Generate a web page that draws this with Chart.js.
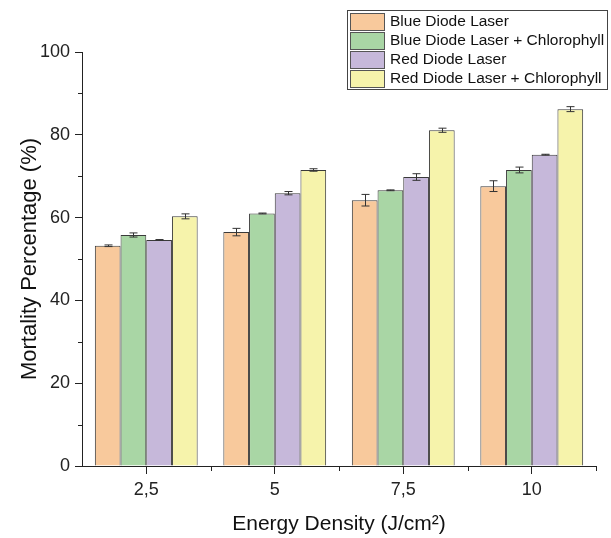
<!DOCTYPE html>
<html>
<head>
<meta charset="utf-8">
<script src="https://cdn.jsdelivr.net/npm/chart.js@4/dist/chart.umd.min.js"></script>
<style>
  html, body { margin:0; padding:0; background:#fff; }
  #wrap { width:611px; height:538px; }
</style>
</head>
<body>
<div id="wrap"><canvas id="chart" width="611" height="538"></canvas></div>
<script>
// ===== DATA =====
const categories = ["2,5", "5", "7,5", "10"];

const blueLaser      = [53.2, 56.5, 64.2, 67.6];
const blueLaserChl   = [55.8, 61.0, 66.6, 71.5];
const redLaser       = [54.6, 65.9, 69.8, 75.2];
const redLaserChl    = [60.3, 71.5, 81.1, 86.2];

// error bars (+/-)
const blueLaserErr    = [0.2, 0.9, 1.4, 1.3];
const blueLaserChlErr = [0.5, 0.1, 0.1, 0.7];
const redLaserErr     = [0.1, 0.4, 0.8, 0.1];
const redLaserChlErr  = [0.6, 0.3, 0.5, 0.6];

const seriesNames = [
  "Blue Diode Laser",
  "Blue Diode Laser + Chlorophyll",
  "Red Diode Laser",
  "Red Diode Laser + Chlorophyll"
];

const yMinorTicks = [10, 30, 50, 70, 90];

const FONT = "'Liberation Sans', Arial, sans-serif";
const colors = ["#F8C99C", "#A9D6A5", "#C6B8DA", "#F6F3AB"];

function ds(i, data, err){
  return {
    label: seriesNames[i],
    data: data,
    errors: err,
    backgroundColor: colors[i],
    borderColor: "#3a3a3a",
    borderWidth: 1,
    barPercentage: 1.0,
    categoryPercentage: 0.8
  };
}

// ===== PLUGIN: error bars, minor ticks, legend =====
const extras = {
  id: "extras",
  afterDatasetsDraw(chart){
    const ctx = chart.ctx;
    const y = chart.scales.y;
    ctx.save();
    ctx.strokeStyle = "#333";
    ctx.lineWidth = 1;
    chart.data.datasets.forEach((d, di) => {
      const meta = chart.getDatasetMeta(di);
      meta.data.forEach((bar, i) => {
        const v = d.data[i], e = d.errors[i];
        const x = Math.round(bar.x) + 0.5;
        const top = y.getPixelForValue(v + e);
        const bot = y.getPixelForValue(v - e);
        ctx.beginPath();
        ctx.moveTo(x, top); ctx.lineTo(x, bot);
        ctx.moveTo(x - 4, top); ctx.lineTo(x + 4, top);
        ctx.moveTo(x - 4, bot); ctx.lineTo(x + 4, bot);
        ctx.stroke();
      });
    });
    ctx.restore();
  },
  afterDraw(chart){
    const ctx = chart.ctx;
    const x = chart.scales.x, y = chart.scales.y;
    const area = chart.chartArea;
    ctx.save();
    ctx.strokeStyle = "#222";
    ctx.lineWidth = 1;

    // minor y ticks
    yMinorTicks.forEach(v => {
      const py = Math.round(y.getPixelForValue(v)) + 0.5;
      ctx.beginPath();
      ctx.moveTo(area.left - 4, py); ctx.lineTo(area.left, py);
      ctx.stroke();
    });

    // minor x ticks at category boundaries
    for (let i = 1; i <= categories.length; i++){
      let bx;
      if (i < categories.length){
        bx = Math.round((x.getPixelForValue(i - 1) + x.getPixelForValue(i)) / 2);
      } else {
        bx = Math.round(area.right);
      }
      ctx.beginPath();
      ctx.moveTo(bx + 0.5, area.bottom); ctx.lineTo(bx + 0.5, area.bottom + 5);
      ctx.stroke();
    }

    // legend
    const lx = 347, ly = 10, lw = 260, lh = 79;
    ctx.fillStyle = "#fff";
    ctx.fillRect(lx, ly, lw, lh);
    ctx.strokeStyle = "#444";
    ctx.strokeRect(lx + 0.5, ly + 0.5, lw, lh);
    ctx.font = "15.5px " + FONT;
    ctx.textBaseline = "middle";
    chart.data.datasets.forEach((d, i) => {
      const ry = ly + 3 + i * 19;
      ctx.fillStyle = d.backgroundColor;
      ctx.fillRect(350, ry, 34, 17);
      ctx.strokeStyle = "#555";
      ctx.strokeRect(350.5, ry + 0.5, 34, 17);
      ctx.fillStyle = "#111";
      ctx.fillText(d.label, 390, ry + 9);
    });
    ctx.restore();
  }
};

// ===== CHART =====
new Chart(document.getElementById("chart"), {
  type: "bar",
  data: {
    labels: categories,
    datasets: [
      ds(0, blueLaser, blueLaserErr),
      ds(1, blueLaserChl, blueLaserChlErr),
      ds(2, redLaser, redLaserErr),
      ds(3, redLaserChl, redLaserChlErr)
    ]
  },
  options: {
    responsive: false,
    animation: false,
    layout: { padding: { top: 52, right: 15, left: 0, bottom: 0 } },
    plugins: { legend: { display: false }, tooltip: { enabled: false } },
    scales: {
      x: {
        offset: true,
        grid: { offset: false, drawOnChartArea: false, tickLength: 8, tickColor: "#222" },
        border: { color: "#222", width: 1 },
        ticks: { color: "#222", font: { family: FONT, size: 18 }, padding: 5 },
        title: {
          display: true, text: "Energy Density (J/cm\u00B2)", color: "#111",
          font: { family: FONT, size: 21 }, padding: { bottom: 1, top: 0 }
        },
        afterFit(s){ s.height = 72; }
      },
      y: {
        min: 0, max: 100,
        grid: { drawOnChartArea: false, tickLength: 7, tickColor: "#222" },
        border: { color: "#222", width: 1 },
        ticks: { stepSize: 20, color: "#222", font: { family: FONT, size: 18 }, padding: 5 },
        title: {
          display: true, text: "Mortality Percentage (%)", color: "#111",
          font: { family: FONT, size: 22 }, padding: { top: 17, bottom: 0 }
        },
        afterFit(s){ s.width = 82; }
      }
    }
  },
  plugins: [extras]
});
</script>
</body>
</html>
